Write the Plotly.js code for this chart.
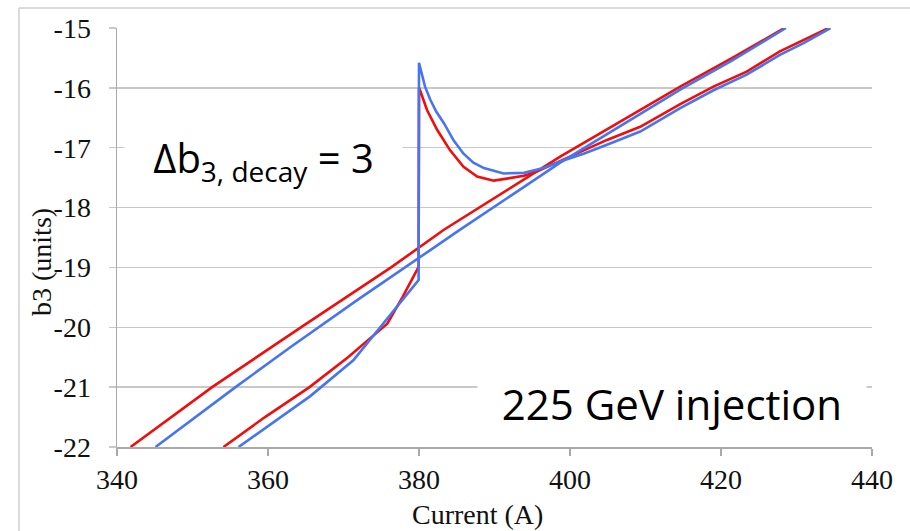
<!DOCTYPE html>
<html>
<head>
<meta charset="utf-8">
<script src="https://cdn.plot.ly/plotly-3.0.1.min.js"></script>
<style>html,body{margin:0;padding:0;background:#fff;}#chart{width:910px;height:531px;}</style>
</head>
<body>
<div id="chart"></div>
<script>
// Red series: straight branch
const redStraightI = [341.8, 352.6, 364.6, 376.3, 383.3, 398.7, 414.6, 421.5, 428.4];
const redStraightB = [-22, -21, -19.98, -19, -18.37, -17.15, -15.98, -15.5, -15];
// Red series: ramp with decay at 380 A
const redDecayI = [354.1, 359.6, 365.5, 370.6, 375.8, 377.8, 379.95, 380.0, 380.2, 381.06, 382.4, 384.1, 385.9, 387.7, 389.9, 392.1, 393.9, 395.6, 398.7, 401.8, 404.9, 409.3, 414.6, 419.0, 423.4, 427.8, 431.0, 434.25];
const redDecayB = [-22, -21.5, -21.0, -20.5, -19.94, -19.5, -18.99, -16.0, -16.06, -16.37, -16.70, -17.04, -17.32, -17.48, -17.55, -17.51, -17.47, -17.40, -17.22, -17.05, -16.87, -16.65, -16.27, -15.98, -15.73, -15.39, -15.2, -15.0];
// Blue series: straight branch
const blueStraightI = [345.1, 355.7, 363.0, 372.0, 381.5, 385.2, 398.7, 414.6, 421.5, 428.6];
const blueStraightB = [-22, -21, -20.33, -19.53, -18.71, -18.39, -17.25, -16.03, -15.54, -15];
// Blue series: ramp with decay at 380 A
const blueDecayI = [356.1, 365.6, 371.3, 379.95, 380.0, 380.8, 381.5, 382.3, 383.3, 384.6, 385.9, 387.2, 388.6, 391.2, 393.9, 396.5, 398.7, 401.8, 404.9, 409.3, 414.6, 419.0, 423.4, 427.8, 431.0, 434.5];
const blueDecayB = [-22, -21.15, -20.55, -19.21, -15.58, -15.98, -16.2, -16.4, -16.59, -16.88, -17.1, -17.25, -17.34, -17.43, -17.42, -17.34, -17.23, -17.1, -16.95, -16.73, -16.34, -16.04, -15.78, -15.45, -15.25, -15.0];

const xTickVals = [340, 360, 380, 400, 420, 440];
const yTickVals = [-22, -21, -20, -19, -18, -17, -16, -15];
const yTickText = ['-22', '-21', '-20', '-19', '-18', '-17', '-16', '-15'];

const RED = '#f20d0d';
const BLUE = '#4774f2';
const LW = 2.6;

const traces = [
  {x: redStraightI, y: redStraightB, mode: 'lines', line: {color: RED, width: LW}, name: 'red straight', hoverinfo: 'x+y'},
  {x: redDecayI, y: redDecayB, mode: 'lines', line: {color: RED, width: LW}, name: 'red decay', hoverinfo: 'x+y'},
  {x: blueStraightI, y: blueStraightB, mode: 'lines', line: {color: BLUE, width: LW}, name: 'blue straight', hoverinfo: 'x+y'},
  {x: blueDecayI, y: blueDecayB, mode: 'lines', line: {color: BLUE, width: LW}, name: 'blue decay', hoverinfo: 'x+y'}
];

const serif = 'Liberation Serif, Times New Roman, serif';
const sans = 'Open Sans, Lato, sans-serif';
const AX = '#a9a9a9';

const layout = {
  width: 910, height: 531,
  margin: {l: 117, r: 38, t: 28, b: 84, pad: 0},
  paper_bgcolor: '#fff', plot_bgcolor: '#fff',
  showlegend: false,
  xaxis: {
    range: [340, 440], tickvals: xTickVals, showgrid: false, zeroline: false,
    showline: true, linecolor: AX, linewidth: 1.5,
    ticks: 'outside', ticklen: 7, tickwidth: 1.5, tickcolor: AX,
    tickfont: {family: serif, size: 28, color: '#111'}, ticklabelstandoff: 0
  },
  yaxis: {
    range: [-22, -15], tickvals: yTickVals, ticktext: yTickText,
    showgrid: true, gridcolor: '#c8c8c8', gridwidth: 1.5, zeroline: false,
    showline: true, linecolor: AX, linewidth: 1.5,
    ticks: 'outside', ticklen: 7, tickwidth: 1.5, tickcolor: '#c8c8c8',
    tickfont: {family: serif, size: 28, color: '#111'}, ticklabelstandoff: 12
  },
  shapes: [
    {type: 'line', xref: 'paper', yref: 'paper', x0: -0.1298, x1: -0.1298, y0: -0.3, y1: 1.0477, line: {color: '#cfcfcf', width: 1.5}},
    {type: 'line', xref: 'paper', yref: 'paper', x0: -0.1298, x1: 1.1, y0: 1.0477, y1: 1.0477, line: {color: '#cfcfcf', width: 1.5}}
  ],
  annotations: [
    {text: 'Current (A)', xref: 'paper', yref: 'paper', x: 0.478, y: -0.16, xanchor: 'center', yanchor: 'middle', showarrow: false, font: {family: serif, size: 28, color: '#111'}},
    {text: 'b3 (units)', xref: 'paper', yref: 'paper', x: -0.1007, y: 0.4415, xanchor: 'center', yanchor: 'middle', textangle: -90, showarrow: false, font: {family: serif, size: 28, color: '#111'}},
    {text: 'Δb<sub>3, decay</sub> = 3', xref: 'paper', yref: 'paper', x: 0.1946, y: 0.685, xanchor: 'center', yanchor: 'middle', width: 277, height: 70, bgcolor: '#fff', borderpad: 0, showarrow: false, font: {family: sans, size: 40, color: '#000'}},
    {text: '225 GeV injection', xref: 'paper', yref: 'paper', x: 0.735, y: 0.105, xanchor: 'center', yanchor: 'middle', width: 388, height: 60, bgcolor: '#fff', borderpad: 0, showarrow: false, font: {family: sans, size: 42, color: '#000'}}
  ]
};

Plotly.newPlot('chart', traces, layout, {staticPlot: true, displayModeBar: false});
</script>
</body>
</html>
